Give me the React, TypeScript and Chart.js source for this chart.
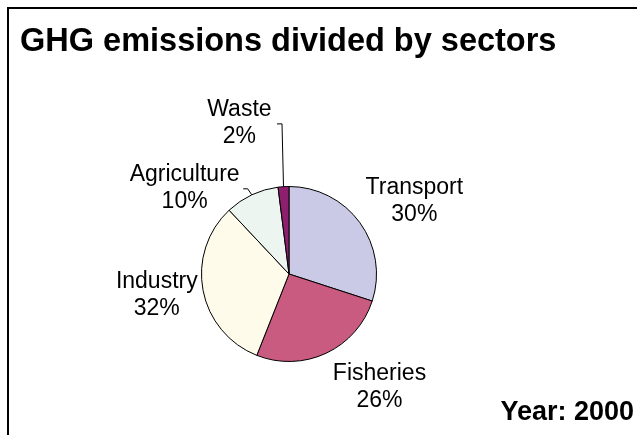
import React, { useEffect, useRef } from "react";
import { Chart, registerables } from "chart.js";

Chart.register(...registerables);

const categories = ["Transport", "Fisheries", "Industry", "Agriculture", "Waste"];
const shares = [30, 26, 32, 10, 2];
const sliceColors = ["#CACAE6", "#C95A80", "#FFFBEA", "#EDF5F1", "#8E1E6E"];
const titleText = "GHG emissions divided by sectors";
const yearText = "Year: 2000";

// label placement relative to each slice's mid-angle (degrees shift, radius factor)
const labelLayout = [
  { dAngle: 5.1, dist: 1.669, leader: null as null | number[][] },
  { dAngle: -13.9, dist: 1.64, leader: null },
  { dAngle: 2.5, dist: 1.527, leader: null },
  { dAngle: -24.8, dist: 1.557, leader: [[-4, -6], [-8.5, -6]] },
  { dAngle: -14.4, dist: 1.834, leader: [] },
];

const FONT = '"Liberation Sans", Arial, Helvetica, sans-serif';

const labelPlugin = {
  id: "sliceLabels",
  afterDatasetsDraw(chart: any) {
    const ctx = chart.ctx;
    const meta = chart.getDatasetMeta(0);
    ctx.save();
    ctx.font = `23px ${FONT}`;
    ctx.fillStyle = "#000";
    ctx.textAlign = "center";
    ctx.textBaseline = "alphabetic";
    ctx.strokeStyle = "#000";
    ctx.lineWidth = 1;
    meta.data.forEach((arc: any, i: number) => {
      const p = arc.getProps(["x", "y", "startAngle", "endAngle", "outerRadius"], true);
      const mid = (p.startAngle + p.endAngle) / 2;
      const lay = labelLayout[i];
      const a = mid + (lay.dAngle * Math.PI) / 180;
      const cx = p.x + Math.cos(a) * p.outerRadius * lay.dist;
      const cy = p.y + Math.sin(a) * p.outerRadius * lay.dist;
      const ex = p.x + Math.cos(mid) * p.outerRadius;
      const ey = p.y + Math.sin(mid) * p.outerRadius;
      ctx.fillText(categories[i], cx, cy - 13.5 + 8.2);
      ctx.fillText(`${shares[i]}%`, cx, cy + 13.5 + 8.2);
      if (lay.leader) {
        ctx.beginPath();
        ctx.moveTo(ex, ey);
        if (lay.leader.length === 0) {
          ctx.lineTo(ex - 1.5, cy + 2.5);
          ctx.lineTo(ex - 6.5, cy + 2.5);
        } else {
          lay.leader.forEach((pt) => ctx.lineTo(ex + pt[0], ey + pt[1]));
        }
        ctx.stroke();
      }
    });
    ctx.restore();
  },
};

export default function App() {
  const canvasRef = useRef<HTMLCanvasElement | null>(null);

  useEffect(() => {
    document.body.style.overflow = "hidden";
    if (!canvasRef.current) return;
    const chart = new Chart(canvasRef.current, {
      type: "pie",
      data: {
        labels: categories,
        datasets: [
          {
            data: shares,
            backgroundColor: sliceColors,
            borderColor: "#000",
            borderWidth: 1,
          },
        ],
      },
      options: {
        animation: false,
        responsive: true,
        maintainAspectRatio: false,
        layout: { padding: { left: 193, right: 200, top: 178, bottom: 65 } },
        plugins: {
          legend: { display: false },
          tooltip: { enabled: false },
          title: { display: false },
        },
      },
      plugins: [labelPlugin],
    });
    return () => chart.destroy();
  }, []);

  return (
    <div>
      <div
        style={{
          position: "fixed",
          left: 7,
          top: 7,
          right: 0,
          bottom: 0,
          borderTop: "2px solid #000",
          borderLeft: "2px solid #000",
        }}
      />
      <div style={{ position: "relative", width: 569, height: 419 }}>
        <canvas ref={canvasRef} />
      </div>
      <div
        style={{
          position: "fixed",
          left: 20,
          top: 24,
          font: `bold 32.5px ${FONT}`,
          lineHeight: "32px",
          whiteSpace: "nowrap",
          color: "#000",
        }}
      >
        {titleText}
      </div>
      <div
        style={{
          position: "fixed",
          right: 3,
          top: 398,
          font: `bold 27px ${FONT}`,
          lineHeight: "27px",
          whiteSpace: "nowrap",
          color: "#000",
        }}
      >
        {yearText}
      </div>
    </div>
  );
}
